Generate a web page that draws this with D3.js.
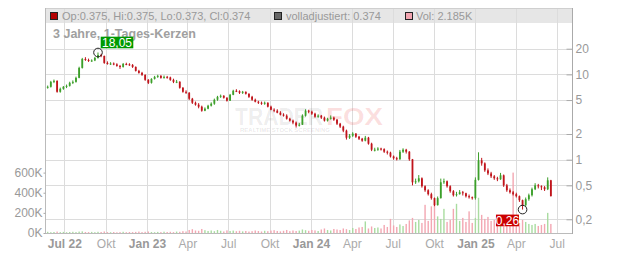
<!DOCTYPE html>
<html><head><meta charset="utf-8">
<script src="https://cdn.jsdelivr.net/npm/d3@7"></script>
<style>body{margin:0;background:#fff;} svg{display:block;font-family:Arial,"Liberation Sans",sans-serif;}</style>
</head><body><svg id="c" width="632" height="253"></svg>
<script>
// ---- DATA (weekly candles, first week starting 2022-05-23) ----
const firstWeekStart = "2022-05-23";
const open = [
7.00,7.15,8.17,8.40,6.25,6.77,7.15,7.34,7.96,8.17,
9.10,11.91,15.16,14.76,14.37,14.55,15.58,16.88,16.44,13.62,
13.26,13.40,13.10,12.56,12.23,13.26,13.10,12.91,12.23,10.98,
10.41,9.87,8.63,7.96,8.86,9.35,9.61,9.10,9.35,9.20,
8.63,8.17,8.20,6.96,6.25,6.08,5.18,4.65,4.41,4.18,
3.75,3.96,4.29,4.53,5.04,5.46,5.61,5.32,4.91,5.76,
6.42,6.35,6.08,6.25,5.92,5.46,5.04,4.78,4.65,4.53,
4.65,4.18,3.85,3.75,3.55,3.37,3.28,3.02,2.87,2.72,
2.51,2.57,3.28,3.75,3.65,3.46,3.19,3.28,3.11,2.87,
3.02,3.11,2.94,2.64,2.44,2.19,1.81,1.91,2.02,1.86,
1.76,1.67,1.81,1.54,1.28,1.31,1.35,1.33,1.24,1.21,
1.09,1.04,1.01,1.24,1.31,1.24,1.01,0.543,0.558,0.605,
0.488,0.438,0.394,0.354,0.293,0.354,0.543,0.558,0.488,0.427,
0.383,0.394,0.415,0.404,0.373,0.363,0.354,0.58,0.98,0.905,
0.75,0.69,0.638,0.605,0.589,0.656,0.50,0.438,0.415,0.394,
0.373,0.335,0.293,0.344,0.383,0.45,0.50,0.488,0.475,0.45,
0.573];
const high = [
7.4,8.4,8.7,8.5,7.0,7.3,7.6,8.2,8.5,9.4,
12.3,15.6,15.9,15.3,15.0,16.0,18.05,17.4,16.6,14.2,
13.9,13.8,13.5,12.9,13.6,13.7,13.5,13.2,12.4,11.3,
10.7,10.0,8.8,9.0,9.6,9.9,9.8,9.7,9.6,9.4,
8.9,8.6,8.3,7.1,6.5,6.2,5.3,4.8,4.6,4.3,
4.1,4.4,4.7,5.2,5.6,5.8,5.7,5.4,5.9,6.6,
6.7,6.5,6.4,6.3,6.0,5.6,5.2,4.9,4.8,4.8,
4.7,4.3,4.0,3.9,3.7,3.5,3.4,3.1,2.95,2.8,
2.7,3.4,3.9,3.85,3.75,3.55,3.4,3.35,3.2,3.1,
3.3,3.2,3.0,2.7,2.5,2.25,2.0,2.1,2.05,1.9,
1.8,1.9,1.85,1.58,1.38,1.4,1.38,1.36,1.28,1.24,
1.12,1.08,1.3,1.36,1.34,1.26,1.02,0.60,0.66,0.62,
0.50,0.45,0.41,0.36,0.37,0.60,0.60,0.57,0.50,0.44,
0.42,0.44,0.43,0.41,0.39,0.37,0.62,1.22,1.05,0.93,
0.79,0.72,0.66,0.63,0.70,0.67,0.52,0.46,0.43,0.41,
0.38,0.34,0.36,0.40,0.47,0.53,0.52,0.50,0.49,0.62,
0.58];
const low = [
6.8,7.0,7.9,6.1,6.1,6.6,6.9,7.2,7.7,8.0,
9.0,11.7,14.4,14.0,14.0,14.3,15.3,15.9,13.3,13.0,
12.9,12.8,12.3,11.6,12.0,12.8,12.6,11.9,10.8,10.2,
9.6,8.4,7.7,7.8,8.7,9.1,8.9,8.9,8.9,8.4,
7.9,7.9,6.8,6.1,5.9,5.0,4.5,4.3,4.0,3.65,
3.7,3.9,4.2,4.4,4.9,5.3,5.2,4.8,4.9,5.7,
6.2,5.9,5.9,5.8,5.3,4.9,4.7,4.5,4.4,4.4,
4.1,3.8,3.6,3.5,3.3,3.2,2.95,2.8,2.6,2.38,
2.45,2.55,3.2,3.5,3.35,3.1,3.1,3.0,2.8,2.8,
2.95,2.85,2.55,2.35,2.1,1.72,1.75,1.85,1.8,1.7,
1.62,1.64,1.5,1.26,1.25,1.27,1.28,1.2,1.15,1.06,
1.0,0.98,1.0,1.2,1.18,0.97,0.50,0.52,0.54,0.47,
0.42,0.38,0.34,0.285,0.29,0.35,0.52,0.47,0.41,0.37,
0.37,0.39,0.38,0.36,0.35,0.34,0.34,0.57,0.85,0.72,
0.66,0.61,0.58,0.56,0.58,0.48,0.42,0.40,0.38,0.36,
0.32,0.26,0.28,0.33,0.37,0.44,0.46,0.44,0.43,0.44,
0.37];
const close = [
7.15,8.17,8.40,6.25,6.77,7.15,7.34,7.96,8.17,9.10,
11.91,15.16,14.76,14.37,14.55,15.58,16.88,16.44,13.62,13.26,
13.40,13.10,12.56,12.23,13.26,13.10,12.91,12.23,10.98,10.41,
9.87,8.63,7.96,8.86,9.35,9.61,9.10,9.35,9.20,8.63,
8.17,8.20,6.96,6.25,6.08,5.18,4.65,4.41,4.18,3.75,
3.96,4.29,4.53,5.04,5.46,5.61,5.32,4.91,5.76,6.42,
6.35,6.08,6.25,5.92,5.46,5.04,4.78,4.65,4.53,4.65,
4.18,3.85,3.75,3.55,3.37,3.28,3.02,2.87,2.72,2.51,
2.57,3.28,3.75,3.65,3.46,3.19,3.28,3.11,2.87,3.02,
3.11,2.94,2.64,2.44,2.19,1.81,1.91,2.02,1.86,1.76,
1.67,1.81,1.54,1.31,1.31,1.35,1.33,1.24,1.21,1.09,
1.04,1.01,1.24,1.31,1.24,1.01,0.543,0.558,0.605,0.488,
0.438,0.394,0.354,0.293,0.354,0.543,0.558,0.488,0.427,0.383,
0.394,0.415,0.404,0.373,0.363,0.354,0.58,0.98,0.905,0.75,
0.69,0.638,0.605,0.589,0.656,0.50,0.438,0.415,0.394,0.373,
0.335,0.293,0.344,0.383,0.45,0.50,0.488,0.475,0.45,0.573,
0.374];
const volumeK = [
12,8,10,14,9,11,8,10,12,9,
14,16,10,9,11,8,12,10,15,9,
8,10,7,9,12,8,10,9,11,14,
9,12,15,10,8,11,9,13,10,12,
9,14,12,18,15,30,38,25,22,40,
28,20,25,18,30,22,15,26,20,24,
18,22,16,20,14,18,25,20,15,22,
18,24,28,20,16,22,30,18,25,20,
24,35,28,22,30,26,20,35,45,30,
25,40,35,30,45,38,30,50,40,55,
60,115,45,65,50,55,45,80,60,140,
75,60,85,70,90,125,150,110,130,100,
280,120,265,280,165,140,240,110,130,240,
290,120,150,110,215,100,150,350,180,140,
160,120,130,100,140,110,120,100,600,90,
100,130,110,90,80,90,70,80,90,200,
90];
const xTickDates = ["2022-07-01","2022-10-01","2023-01-01","2023-04-01","2023-07-01","2023-10-01","2024-01-01","2024-04-01","2024-07-01","2024-10-01","2025-01-01","2025-04-01","2025-07-01"];
const xTickLabels = ["Jul 22","Okt","Jan 23","Apr","Jul","Okt","Jan 24","Apr","Jul","Okt","Jan 25","Apr","Jul"];
const xTickBold = [true,false,true,false,false,false,true,false,false,false,true,false,false];
const priceTicks = [0.2,0.5,1,2,5,10,20];
const volumeTicks = [0,200000,400000,600000];
const legendItems = ["Op:0.375, Hi:0.375, Lo:0.373, Cl:0.374","volladjustiert: 0.374","Vol: 2.185K"];
const titleText = "3 Jahre, 1-Tages-Kerzen";

// ---- CHART ----
const svg = d3.select("#c");
const parse = d3.timeParse("%Y-%m-%d");
const de = d3.formatLocale({decimal:",",thousands:".",grouping:[3],currency:["","€"]});
const L = 46, R = 572, T = 8, B = 233;
const x = d3.scaleTime().domain([parse("2022-07-01"), parse("2025-07-01")]).range([64.3, 556.7]);
const yP = d3.scaleLog().domain([0.2, 20]).range([219.3, 48.7]);
const yV = d3.scaleLinear().domain([0, 600000]).range([B, 172.6]);
const start = parse(firstWeekStart);
const data = close.map((c,i)=>({d:d3.timeDay.offset(start, 7*i+2), o:open[i], h:high[i], l:low[i], c, v:volumeK[i]*1000}));
const RED = "#c0141b", GREEN = "#3c9f2a";

// legend band
svg.append("rect").attr("x",L).attr("y",T).attr("width",R-L).attr("height",15).attr("fill","#e6e6e6");
// vertical grid
const tDates = xTickDates.map(parse);
svg.append("g").selectAll("line").data(tDates).join("line")
  .attr("x1",d=>Math.round(x(d))+0.5).attr("x2",d=>Math.round(x(d))+0.5)
  .attr("y1",T).attr("y2",B).attr("stroke","#dcdcdc");
// horizontal grid
svg.append("g").selectAll("line").data(priceTicks).join("line")
  .attr("x1",L).attr("x2",R).attr("y1",d=>Math.round(yP(d))+0.5).attr("y2",d=>Math.round(yP(d))+0.5)
  .attr("stroke","#dcdcdc");
// frame top
svg.append("line").attr("x1",L).attr("x2",R).attr("y1",T+0.5).attr("y2",T+0.5).attr("stroke","#cfcfcf");

// watermark
const wm = svg.append("g").attr("font-weight","bold");
wm.append("text").attr("x",235).attr("y",125).attr("font-size",23).attr("textLength",88).attr("lengthAdjust","spacingAndGlyphs").attr("fill","rgba(0,0,0,0.08)").text("TRADER");
wm.append("text").attr("x",326).attr("y",125).attr("font-size",23).attr("textLength",57).attr("lengthAdjust","spacingAndGlyphs").attr("fill","rgba(225,0,0,0.13)").text("FOX");
wm.append("text").attr("x",240).attr("y",132).attr("font-size",6).attr("textLength",90).attr("lengthAdjust","spacingAndGlyphs").attr("fill","rgba(0,0,0,0.1)").text("REALTIME STOCK SCREENING");

// title
svg.append("text").attr("x",53).attr("y",37.5).attr("font-size",12.5).attr("font-weight","bold").attr("fill","#a0a0a0").text(titleText);

// volume bars
svg.append("g").selectAll("rect").data(data).join("rect")
  .attr("x",d=>x(d.d)-0.7).attr("width",1.4)
  .attr("y",d=>yV(d.v)).attr("height",d=>B-yV(d.v))
  .attr("fill",d=>d.c>=d.o?"#a9dca0":"#f3a7b2");

// candles
const cg = svg.append("g");
cg.selectAll("line").data(data).join("line")
  .attr("x1",d=>x(d.d)).attr("x2",d=>x(d.d))
  .attr("y1",d=>yP(d.h)).attr("y2",d=>yP(d.l))
  .attr("stroke",d=>d.c>=d.o?GREEN:RED).attr("stroke-width",1);
cg.selectAll("rect").data(data).join("rect")
  .attr("x",d=>x(d.d)-0.9).attr("width",1.8)
  .attr("y",d=>Math.min(yP(d.o),yP(d.c)))
  .attr("height",d=>Math.max(1,Math.abs(yP(d.o)-yP(d.c))))
  .attr("fill",d=>d.c>=d.o?GREEN:RED);

// axes
const axColor = "#aaa", txtColor = "#999";
svg.append("line").attr("x1",L).attr("x2",R).attr("y1",B+0.5).attr("y2",B+0.5).attr("stroke","#bbb");
svg.append("line").attr("x1",L-0.5).attr("x2",L-0.5).attr("y1",T).attr("y2",B+1).attr("stroke","#bbb");
svg.append("line").attr("x1",R+0.5).attr("x2",R+0.5).attr("y1",T).attr("y2",B+1).attr("stroke",axColor);

const xa = svg.append("g").attr("transform",`translate(0,${B})`)
  .call(d3.axisBottom(x).tickValues(tDates).tickFormat((d,i)=>xTickLabels[i]).tickSize(0).tickPadding(6.5));
xa.select(".domain").remove();
xa.selectAll("text").attr("font-size",12).attr("fill",(d,i)=>xTickBold[i]?"#999":"#aaa")
  .attr("font-weight",(d,i)=>xTickBold[i]?"bold":"normal").attr("font-family","Arial, Liberation Sans, sans-serif");

const ra = svg.append("g").attr("transform",`translate(${R+0.5},0)`)
  .call(d3.axisRight(yP).tickValues(priceTicks).tickFormat(de.format("~g")).tickSize(-6).tickPadding(3));
ra.select(".domain").remove();
ra.selectAll("line").attr("stroke",axColor);
ra.selectAll("text").attr("font-size",12).attr("fill",txtColor).attr("font-family","Arial, Liberation Sans, sans-serif");

const la = svg.append("g").attr("transform",`translate(${L-0.5},0)`)
  .call(d3.axisLeft(yV).tickValues(volumeTicks).tickFormat(d=>(d/1000)+"K").tickSize(2).tickPadding(1));
la.select(".domain").remove();
la.selectAll("line").attr("stroke",axColor);
la.selectAll("text").attr("font-size",12).attr("fill",txtColor).attr("font-family","Arial, Liberation Sans, sans-serif");

// legend
const lg = svg.append("g").attr("font-size",11).attr("fill","#999");
const lsq = [{x:50.5,f:"#b30000"},{x:274.5,f:"#666"},{x:405.5,f:"#f2a5b0"}];
const ltx = [62,286,416];
lsq.forEach((s,i)=>{
  lg.append("rect").attr("x",s.x).attr("y",12.5).attr("width",7).attr("height",7).attr("fill",s.f).attr("stroke","#222");
  lg.append("text").attr("x",ltx[i]).attr("y",19.8).text(legendItems[i]);
});

// annotations: max high and min low
const iMax = d3.maxIndex(data,d=>d.h), iMin = d3.minIndex(data,d=>d.l);
const hx = x(data[iMax].d), hy = yP(data[iMax].h);
const lx = x(data[iMin].d), ly = yP(data[iMin].l);
const fmt2 = de.format(".2f");
svg.append("rect").attr("x",hx+2.7).attr("y",hy-15.8).attr("width",32.6).attr("height",11.6).attr("fill","#009a00");
svg.append("text").attr("x",hx+2.7+16.3).attr("y",hy-6).attr("text-anchor","middle").attr("font-size",12).attr("fill","#fff").text(fmt2(data[iMax].h));
svg.append("circle").attr("cx",hx).attr("cy",hy).attr("r",4.3).attr("fill","none").attr("stroke","#222");
svg.append("rect").attr("x",lx-26.6).attr("y",ly+5).attr("width",23).attr("height",11.7).attr("fill","#cc0000");
svg.append("text").attr("x",lx-26.6+11.5).attr("y",ly+15).attr("text-anchor","middle").attr("font-size",12).attr("fill","#fff").text(fmt2(data[iMin].l));
svg.append("circle").attr("cx",lx).attr("cy",ly).attr("r",4.3).attr("fill","none").attr("stroke","#222");
</script></body></html>
